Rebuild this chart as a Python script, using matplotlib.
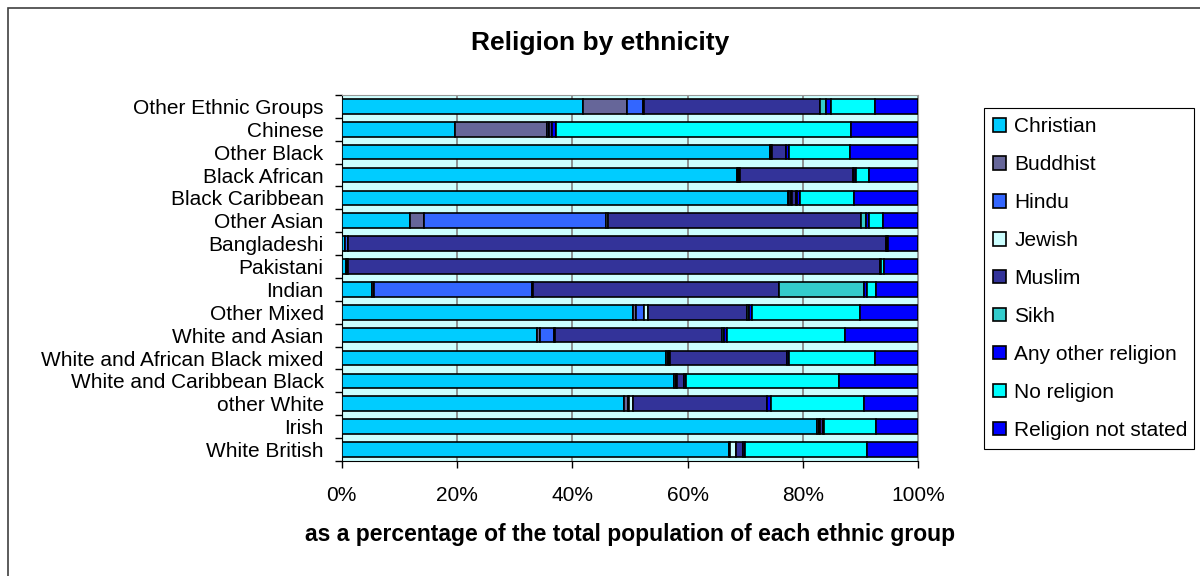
import matplotlib
matplotlib.use("Agg")
import matplotlib.pyplot as plt
import matplotlib.patches as patches
import numpy as np

plt.rcParams['font.family'] = ['Liberation Sans', 'DejaVu Sans']

groups = ["Other Ethnic Groups", "Chinese", "Other Black", "Black African",
          "Black Caribbean", "Other Asian", "Bangladeshi", "Pakistani", "Indian",
          "Other Mixed", "White and Asian", "White and African Black mixed",
          "White and Caribbean Black", "other White", "Irish", "White British"]

religions = ["Christian", "Buddhist", "Hindu", "Jewish", "Muslim", "Sikh",
             "Any other religion", "No religion", "Religion not stated"]

# percentages, top row of chart first
christian = [41.9, 19.7, 74.2, 68.6, 77.4, 11.9, 0.5, 0.8, 5.3, 50.5, 33.9, 56.3, 57.7, 49.0, 82.5, 67.1]
buddhist = [7.6, 15.9, 0.1, 0.1, 0.2, 2.3, 0.1, 0.1, 0.3, 0.6, 0.4, 0.2, 0.2, 0.6, 0.2, 0.2]
hindu = [2.8, 0.3, 0.2, 0.2, 0.3, 31.7, 0.5, 0.1, 27.4, 1.4, 2.5, 0.2, 0.1, 0.2, 0.1, 0.1]
jewish = [0.2, 0.1, 0.1, 0.1, 0.1, 0.2, 0.0, 0.0, 0.1, 0.6, 0.2, 0.2, 0.1, 0.7, 0.2, 0.9]
muslim = [30.4, 0.4, 2.4, 19.7, 0.8, 43.9, 93.3, 92.4, 42.8, 17.1, 29.0, 20.3, 1.2, 23.2, 0.4, 1.3]
sikh = [1.0, 0.1, 0.1, 0.1, 0.1, 1.0, 0.0, 0.1, 14.6, 0.4, 0.3, 0.1, 0.1, 0.1, 0.0, 0.0]
other_rel = [1.0, 0.6, 0.4, 0.3, 0.6, 0.5, 0.1, 0.1, 0.6, 0.6, 0.5, 0.3, 0.3, 0.7, 0.2, 0.3]
no_religion = [7.5, 51.2, 10.6, 2.3, 9.4, 2.4, 0.2, 0.5, 1.6, 18.7, 20.5, 14.8, 26.6, 16.0, 9.0, 21.2]
not_stated = [7.6, 11.7, 11.9, 8.6, 11.1, 6.1, 5.3, 5.9, 7.3, 10.1, 12.7, 7.6, 13.7, 9.5, 7.4, 8.9]

colors = ["#00CCFF", "#666699", "#3366FF", "#CCFFFF", "#333399", "#33CCCC",
          "#0000FF", "#00FFFF", "#0000FF"]

series = [christian, buddhist, hindu, jewish, muslim, sikh, other_rel, no_religion, not_stated]

fig = plt.figure(figsize=(12, 5.76), dpi=100)
ax = fig.add_axes([0.2848, 0.1997, 0.4805, 0.6354])
ax.set_facecolor("#CCFFFF")

y = np.arange(len(groups))
left = np.zeros(len(groups))
handles = []
for vals, name, c in zip(series, religions, colors):
    vals = np.array(vals)
    b = ax.barh(y, vals, left=left, height=0.64, color=c, edgecolor="black",
                linewidth=1.2, label=name, zorder=3)
    handles.append(b)
    left += vals

ax.set_xlim(0, 100)
ax.set_ylim(len(groups) - 0.5, -0.5)
ax.set_xticks([0, 20, 40, 60, 80, 100])
ax.set_xticklabels(["0%", "20%", "40%", "60%", "80%", "100%"], fontsize=15)
ax.xaxis.grid(True, color="#808080", linewidth=1.2, zorder=0)
ax.set_axisbelow(True)

ax.set_yticks(y)
ax.set_yticklabels(groups, fontsize=15)
ax.set_yticks(np.arange(-0.5, len(groups)), minor=True)
ax.tick_params(axis="y", which="major", length=0, pad=13)
ax.tick_params(axis="y", which="minor", length=5, direction="out", width=1)
ax.tick_params(axis="x", length=5, direction="out", pad=13, width=1)

for s in ["top", "right"]:
    ax.spines[s].set_color("#999999")
for s in ["left", "bottom"]:
    ax.spines[s].set_color("black")

ax.set_xlabel("as a percentage of the total population of each ethnic group",
              fontsize=16.5, fontweight="bold", labelpad=13)
fig.text(0.5, 0.925, "Religion by ethnicity", ha="center", va="center",
         fontsize=19, fontweight="bold")

leg = fig.legend(handles=handles, labels=religions, loc="upper left",
                 bbox_to_anchor=(0.82, 0.2188, 0.175, 0.5937), mode="expand",
                 fontsize=15, frameon=True, fancybox=False, framealpha=1,
                 edgecolor="black", borderaxespad=0, labelspacing=0.91,
                 handlelength=0.6, handleheight=0.6, handletextpad=0.4,
                 borderpad=0.45)
leg.get_frame().set_linewidth(0.8)

frame = patches.Rectangle((8 / 1200, -0.02), 1.05, 1 - 8 / 576 + 0.02,
                          transform=fig.transFigure, fill=False,
                          edgecolor="#404040", linewidth=1.2)
fig.patches.append(frame)

fig.savefig("out.png", dpi=100)
